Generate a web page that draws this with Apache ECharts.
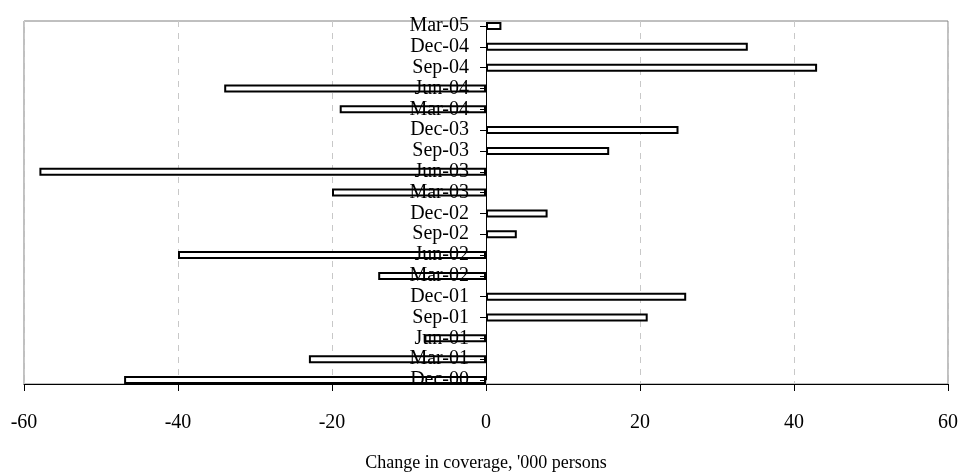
<!DOCTYPE html>
<html>
<head>
<meta charset="utf-8">
<script src="https://cdn.jsdelivr.net/npm/echarts@6/dist/echarts.min.js"></script>
<style>
  html, body { margin: 0; padding: 0; background: #fff; }
  #chart { width: 962px; height: 475px; }
</style>
</head>
<body>
<div id="chart"></div>
<script>
// quarters, bottom to top
var quarters = ['Dec-00', 'Mar-01', 'Jun-01', 'Sep-01', 'Dec-01', 'Mar-02', 'Jun-02', 'Sep-02', 'Dec-02',
  'Mar-03', 'Jun-03', 'Sep-03', 'Dec-03', 'Mar-04', 'Jun-04', 'Sep-04', 'Dec-04', 'Mar-05']
// change in coverage, '000 persons
var change = [-47, -23, -8, 21, 26, -14, -40, 4, 8, -20, -58, 16, 25, -19, -34, 43, 34, 2]
var xTicks = [-60, -40, -20, 0, 20, 40, 60]

var serif = '"Liberation Serif", "DejaVu Serif", serif'
var chart = echarts.init(document.getElementById('chart'))

var plotW = 924
chart.setOption({
  animation: false,
  grid: [
    // frame + value axis
    { left: 24, top: 21, width: plotW, height: 363, show: true, borderColor: '#808080', borderWidth: 1,
      outerBoundsMode: 'none' },
    // bars (category ticks sit at bar centres)
    { left: 24, top: 26, width: plotW, height: 354, outerBoundsMode: 'none' }
  ],
  xAxis: [{
    gridIndex: 0,
    type: 'value',
    min: xTicks[0],
    max: xTicks[xTicks.length - 1],
    interval: 20,
    axisLine: { show: true, lineStyle: { color: '#000', width: 1 } },
    axisTick: { show: true, length: 7, lineStyle: { color: '#000' } },
    axisLabel: { color: '#000', fontFamily: serif, fontSize: 20, margin: 29 },
    splitLine: { show: true, lineStyle: { color: '#c8c8c8', type: [6, 6], width: 1 } },
    name: "Change in coverage, '000 persons",
    nameLocation: 'middle',
    nameGap: 70,
    nameTextStyle: { color: '#000', fontFamily: serif, fontSize: 18 }
  }, {
    gridIndex: 1,
    type: 'value',
    min: xTicks[0],
    max: xTicks[xTicks.length - 1],
    show: false
  }],
  yAxis: [{
    gridIndex: 0,
    type: 'value',
    show: false
  }, {
    gridIndex: 1,
    type: 'category',
    data: quarters,
    boundaryGap: false,
    position: 'left',
    // category axis sits on the zero line, in the middle of the plot
    offset: -plotW / 2,
    z: 10,
    axisLine: { show: true, onZero: false, lineStyle: { color: '#000', width: 1 } },
    axisTick: { show: true, length: 6, interval: 0, lineStyle: { color: '#000' } },
    axisLabel: { color: '#000', fontFamily: serif, fontSize: 20, margin: 17, interval: 0 },
    splitLine: { show: false }
  }],
  series: [{
    type: 'bar',
    xAxisIndex: 1,
    yAxisIndex: 1,
    data: change,
    barWidth: 8,
    itemStyle: { color: '#fff', borderColor: '#000', borderWidth: 2 }
  }]
})
</script>
</body>
</html>
